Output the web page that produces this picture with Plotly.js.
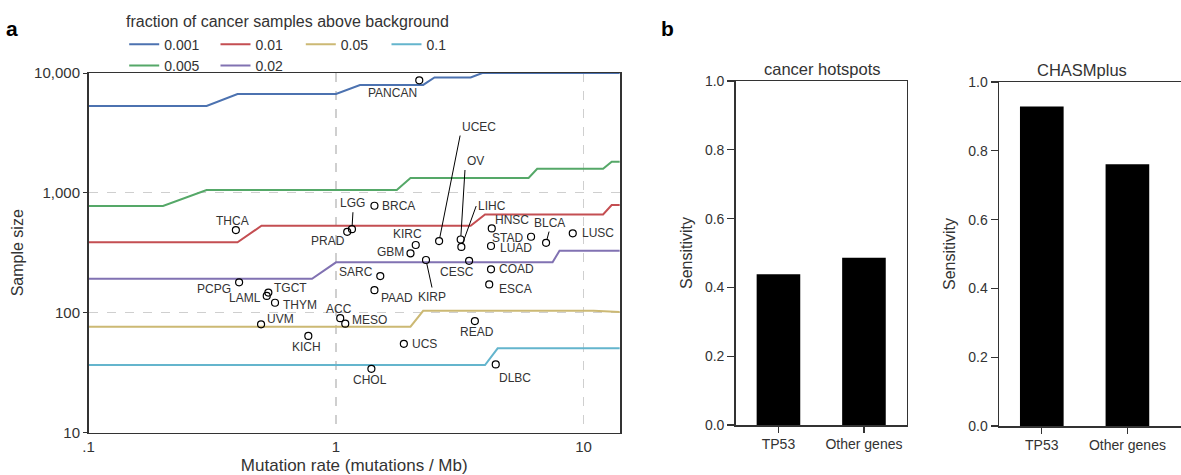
<!DOCTYPE html>
<html>
<head>
<meta charset="utf-8">
<script src="https://cdn.plot.ly/plotly-3.0.1.min.js"></script>
<style>html,body{margin:0;padding:0;background:#fff;}#chart{width:1181px;height:475px;}</style>
</head>
<body>
<div id="chart"></div>
<script>
// ---------------- DATA ----------------
// Panel a: detection thresholds (sample size needed vs. mutation rate)
const fractionLabels = ['0.001', '0.005', '0.01', '0.02', '0.05', '0.1'];
const rate_0001 = [0.1, 0.3, 0.4, 1.0, 1.25, 2.25, 2.5, 3.5, 3.9, 14];
const size_0001 = [5300, 5300, 6680, 6680, 7950, 7950, 9170, 9170, 10000, 10000];
const rate_0005 = [0.1, 0.2, 0.3, 1.76, 2.0, 6.0, 6.5, 12, 13, 14];
const size_0005 = [776, 776, 1055, 1055, 1329, 1329, 1589, 1589, 1818, 1818];
const rate_001 = [0.1, 0.4, 0.5, 3.5, 4.0, 12, 13, 14];
const size_001 = [386, 386, 531, 531, 661, 661, 791, 791];
const rate_002 = [0.1, 0.8, 1.0, 7.5, 8.0, 14];
const size_002 = [192, 192, 263, 263, 329, 329];
const rate_005 = [0.1, 2.0, 2.25, 11, 14];
const size_005 = [76.3, 76.3, 103.7, 103.7, 101.5];
const rate_01 = [0.1, 4.0, 4.5, 14];
const size_01 = [36.5, 36.5, 50.4, 50.4];

// Panel a: cancer cohorts
const cancerTypes = ['PANCAN','THCA','PRAD','LGG','BRCA','KIRC','GBM','KIRP','SARC','PAAD','CESC','UCEC','OV','LIHC','HNSC','STAD','LUAD','BLCA','LUSC','COAD','ESCA','PCPG','TGCT','LAML','THYM','UVM','KICH','ACC','MESO','READ','UCS','CHOL','DLBC'];
const mutationRate = [2.17, 0.394, 1.11, 1.16, 1.43, 2.10, 2.00, 2.31, 1.51, 1.43, 3.45, 2.61, 3.19, 3.21, 4.26, 4.23, 6.14, 7.06, 9.05, 4.23, 4.16, 0.406, 0.533, 0.525, 0.567, 0.498, 0.773, 1.04, 1.09, 3.64, 1.88, 1.39, 4.42];
const sampleSize = [8690, 489, 473, 497, 780, 367, 313, 275, 202, 154, 271, 396, 408, 354, 505, 360, 430, 383, 459, 230, 172, 179, 147, 138, 121, 80, 64, 90, 81, 85, 55, 34, 37];

// Panel b: sensitivity
const geneGroups = ['TP53', 'Other genes'];
const hotspotsSensitivity = [0.438, 0.486];
const chasmplusSensitivity = [0.929, 0.761];

// ---------------- STYLE / LAYOUT ----------------
const W = 1181, H = 475;
const FONT = 'Liberation Sans, Arial, Helvetica, sans-serif';
const TXT = '#333333';
const px = v => v / W;
const py = v => 1 - v / H;

const lineColors = ['#4C72B0', '#55A868', '#C44E52', '#8172B2', '#CCB974', '#64B5CD'];
const lineRates = [rate_0001, rate_0005, rate_001, rate_002, rate_005, rate_01];
const lineSizes = [size_0001, size_0005, size_001, size_002, size_005, size_01];
// legend layout: [legend id, entry width]
const legendSlots = [['legend', 46.3], ['legend2', 46.3], ['legend', 40.3], ['legend2', 40.3], ['legend', 40.7], ['legend', 40]];

// label placement: [xanchor, dx, dy(px, down positive), arrow?, yanchor]
const labelPlacement = {
  PANCAN: ['center', -27, 12.4], THCA: ['center', -3, -9], PRAD: ['center', -19, 9.2],
  LGG: ['center', 1, -17, true, 'bottom'], BRCA: ['left', 6, 0], KIRC: ['center', -8.4, -10.7],
  GBM: ['right', -5, -1], KIRP: ['center', 6, 27.5, true, 'top'], SARC: ['right', -5.5, -3.7],
  PAAD: ['left', 4.5, 7.3], CESC: ['center', -12.3, 11.6], UCEC: ['left', 21, -105.5, true, 'bottom'],
  OV: ['left', 4.3, -69.5, true, 'bottom'], LIHC: ['left', 14.8, -40.8, true, 'middle'],
  HNSC: ['left', 1.6, -8.3], STAD: ['left', -1, -8.2], LUAD: ['right', 3.3, 11.5],
  BLCA: ['center', 3, -11.2, true, 'bottom'], LUSC: ['left', 7.5, 0], COAD: ['left', 6.2, 0],
  ESCA: ['left', 7.5, 5], PCPG: ['right', -5.8, 6.7], TGCT: ['left', 4, -5],
  LAML: ['right', -3.4, 2], THYM: ['left', 5.5, 2.3], UVM: ['left', 4, -5],
  KICH: ['center', -2.3, 11.6], ACC: ['center', -1.5, -9.3], MESO: ['left', 5, -3.3],
  READ: ['center', 2.3, 10.7], UCS: ['left', 6.2, 0], CHOL: ['center', -1, 11], DLBC: ['left', 1.6, 13.4]
};

const traces = [];
// legend draw order so rows read like the reference
const order = [0, 2, 4, 5, 1, 3];
order.forEach(i => {
  traces.push({
    type: 'scatter', mode: 'lines', x: lineRates[i], y: lineSizes[i],
    name: fractionLabels[i], line: {color: lineColors[i], width: 2},
    xaxis: 'x', yaxis: 'y', legend: legendSlots[i][0], legendwidth: legendSlots[i][1],
    hoverinfo: 'skip'
  });
});
traces.push({
  type: 'scatter', mode: 'markers', x: mutationRate, y: sampleSize, text: cancerTypes,
  marker: {symbol: 'circle-open', size: 7, color: '#000000', line: {width: 1.2, color: '#000000'}},
  xaxis: 'x', yaxis: 'y', showlegend: false, hoverinfo: 'text'
});
traces.push({
  type: 'bar', x: geneGroups, y: hotspotsSensitivity, xaxis: 'x2', yaxis: 'y2',
  marker: {color: '#000000', line: {width: 0}}, width: 0.51, showlegend: false
});
traces.push({
  type: 'bar', x: geneGroups, y: chasmplusSensitivity, xaxis: 'x3', yaxis: 'y3',
  marker: {color: '#000000', line: {width: 0}}, width: 0.51, showlegend: false
});

const annotations = [];
cancerTypes.forEach((name, i) => {
  const p = labelPlacement[name];
  const base = {
    x: Math.log10(mutationRate[i]), y: Math.log10(sampleSize[i]), xref: 'x', yref: 'y',
    text: name, font: {family: FONT, size: 12, color: TXT}, xanchor: p[0]
  };
  if (p[3]) {
    Object.assign(base, {showarrow: true, ax: p[1], ay: p[2], arrowhead: 0, arrowwidth: 1,
      arrowcolor: '#000000', standoff: 3.5, yanchor: p[4]});
  } else {
    Object.assign(base, {showarrow: false, xshift: p[1], yshift: -p[2], yanchor: 'middle'});
  }
  annotations.push(base);
});
const txt = (t, x, y, size, extra) => Object.assign({text: t, x: px(x), y: py(y), xref: 'paper', yref: 'paper',
  showarrow: false, xanchor: 'center', yanchor: 'middle', font: {family: FONT, size: size, color: TXT}}, extra || {});
annotations.push(txt('fraction of cancer samples above background', 287.5, 22, 16));
annotations.push(txt('cancer hotspots', 821.7, 69, 16.5));
annotations.push(txt('CHASMplus', 1082, 70, 16.5));
annotations.push(txt('<b>a</b>', 12, 29, 21, {font: {family: FONT, size: 21, color: '#000'}}));
annotations.push(txt('<b>b</b>', 667.5, 28, 21, {font: {family: FONT, size: 21, color: '#000'}}));

const spine = {showline: true, linecolor: TXT, linewidth: 1.5, zeroline: false};
const legendBase = {orientation: 'h', xanchor: 'left', yanchor: 'top', bgcolor: 'rgba(0,0,0,0)',
  font: {family: FONT, size: 14, color: TXT}, traceorder: 'normal', itemclick: false, itemdoubleclick: false};

const layout = {
  width: W, height: H, margin: {l: 0, r: 0, t: 0, b: 0},
  paper_bgcolor: '#ffffff', plot_bgcolor: '#ffffff',
  font: {family: FONT, color: TXT},
  showlegend: true,
  legend: Object.assign({x: px(124.2), y: py(28.6)}, legendBase),
  legend2: Object.assign({x: px(124.2), y: py(50)}, legendBase),
  xaxis: Object.assign({}, spine, {
    type: 'log', domain: [px(88.5), px(620)], range: [-1, 1.1475], anchor: 'y', mirror: true,
    tickvals: [0.1, 1, 10], ticktext: ['.1', '1', '10'], ticks: '', tickfont: {size: 15, color: TXT},
    showgrid: true, gridcolor: '#cfcfcf', griddash: 'dash', gridwidth: 1.3,
    title: {text: 'Mutation rate (mutations / Mb)', font: {size: 17, color: TXT}, standoff: 8}
  }),
  yaxis: Object.assign({}, spine, {
    type: 'log', domain: [py(432.5), py(73)], range: [1, 4], anchor: 'x', mirror: true,
    tickvals: [10, 100, 1000, 10000], ticktext: ['10', '100', '1,000', '10,000'],
    ticks: 'outside', ticklen: 4, tickcolor: TXT, tickfont: {size: 15, color: TXT},
    showgrid: true, gridcolor: '#cfcfcf', griddash: 'dash', gridwidth: 1.3,
    title: {text: 'Sample size', font: {size: 16, color: TXT}, standoff: 6}
  }),
  xaxis2: Object.assign({}, spine, {
    type: 'category', domain: [px(735.7), px(906.7)], range: [-0.5, 1.5], anchor: 'y2', mirror: true,
    ticks: 'outside', ticklen: 6, tickcolor: TXT, tickwidth: 1.3, tickfont: {size: 14, color: TXT}, showgrid: false
  }),
  yaxis2: Object.assign({}, spine, {
    domain: [py(425), py(81)], range: [0, 1.0], anchor: 'x2', mirror: true,
    tickvals: [0, 0.2, 0.4, 0.6, 0.8, 1.0], tickformat: '.1f',
    ticks: 'outside', ticklen: 7, tickcolor: TXT, tickwidth: 1.3, tickfont: {size: 14, color: TXT}, showgrid: false,
    title: {text: 'Sensitivity', font: {size: 16, color: TXT}, standoff: 8}
  }),
  xaxis3: Object.assign({}, spine, {
    type: 'category', domain: [px(999), 1], range: [-0.5, 1.626], anchor: 'y3', mirror: true,
    ticks: 'outside', ticklen: 6, tickcolor: TXT, tickwidth: 1.3, tickfont: {size: 14, color: TXT}, showgrid: false
  }),
  yaxis3: Object.assign({}, spine, {
    domain: [py(426), py(82)], range: [0, 1.0], anchor: 'x3', mirror: false,
    tickvals: [0, 0.2, 0.4, 0.6, 0.8, 1.0], tickformat: '.1f',
    ticks: 'outside', ticklen: 7, tickcolor: TXT, tickwidth: 1.3, tickfont: {size: 14, color: TXT}, showgrid: false,
    title: {text: 'Sensitivity', font: {size: 16, color: TXT}, standoff: 8}
  }),
  annotations: annotations
};

Plotly.newPlot('chart', traces, layout, {staticPlot: true, displayModeBar: false});
</script>
</body>
</html>
